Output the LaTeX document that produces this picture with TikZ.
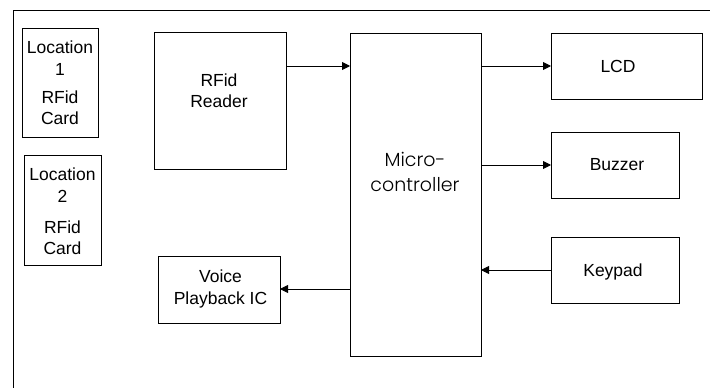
\documentclass[tikz,border=0pt]{standalone}
\usepackage{fontspec}
\setmainfont{Liberation Sans}
\newfontfamily\geofont{Poppins}[UprightFont={* Light}]
\usetikzlibrary{arrows.meta}
\begin{document}
\begin{tikzpicture}[x=1pt,y=-1pt,
  box/.style={draw=black, line width=0.9pt, inner sep=0pt, outer sep=0pt, anchor=north west},
  txt/.style={inner sep=0pt, align=center, font=\fontsize{17.5}{21.5}\selectfont},
  big/.style={inner sep=0pt, align=center, font=\geofont\fontsize{19}{25}\selectfont},
  arr/.style={draw=black, line width=0.9pt, -{Triangle[length=8pt,width=8pt]}}]
\useasboundingbox (0,0) rectangle (710,388);
\draw[line width=1pt] (13,388) -- (13,10) -- (710,10);
% boxes
\node[box, minimum width=76, minimum height=109] (loc1) at (22,28) {};
\node[box, minimum width=77, minimum height=110] (loc2) at (24,155) {};
\node[box, minimum width=132, minimum height=137] (rfid) at (154,32) {};
\node[box, minimum width=122, minimum height=67] (voice) at (158,256) {};
\node[box, minimum width=131, minimum height=323] (mcu) at (350,33) {};
\node[box, minimum width=151, minimum height=66] (lcd) at (551,33) {};
\node[box, minimum width=128, minimum height=66] (buzz) at (551,132) {};
\node[box, minimum width=128, minimum height=66] (keys) at (551,237) {};
% texts
\node[txt] (t1a) at (60,58.3) {Location\\1};
\node[txt] (t1b) at (60,107.5) {RFid\\Card};
\node[txt] (t2a) at (62.5,185) {Location\\2};
\node[txt] (t2b) at (62.5,237.5) {RFid\\Card};
\node[txt] (trf) at (219,90.5) {RFid\\Reader};
\node[txt] (tvo) at (220.5,288.8) {Voice\\Playback IC};
\node[big] (tmc) at (415,172) {Micro-\\controller};
\node[txt] (tlcd) at (618,66) {LCD};
\node[txt] (tbz) at (617,165) {Buzzer};
\node[txt] (tkp) at (613,271.5) {Keypad};
% connector levels
\coordinate (ya) at (0,66);
\coordinate (yb) at (0,165);
\coordinate (yc) at (0,270);
\coordinate (yd) at (0,289);
\draw[arr] (rfid.east |- ya) -- (mcu.west |- ya);
\draw[arr] (mcu.east |- ya) -- (lcd.west |- ya);
\draw[arr] (mcu.east |- yb) -- (buzz.west |- yb);
\draw[arr] (keys.west |- yc) -- (mcu.east |- yc);
\draw[arr] (mcu.west |- yd) -- (voice.east |- yd);
\end{tikzpicture}
\end{document}
